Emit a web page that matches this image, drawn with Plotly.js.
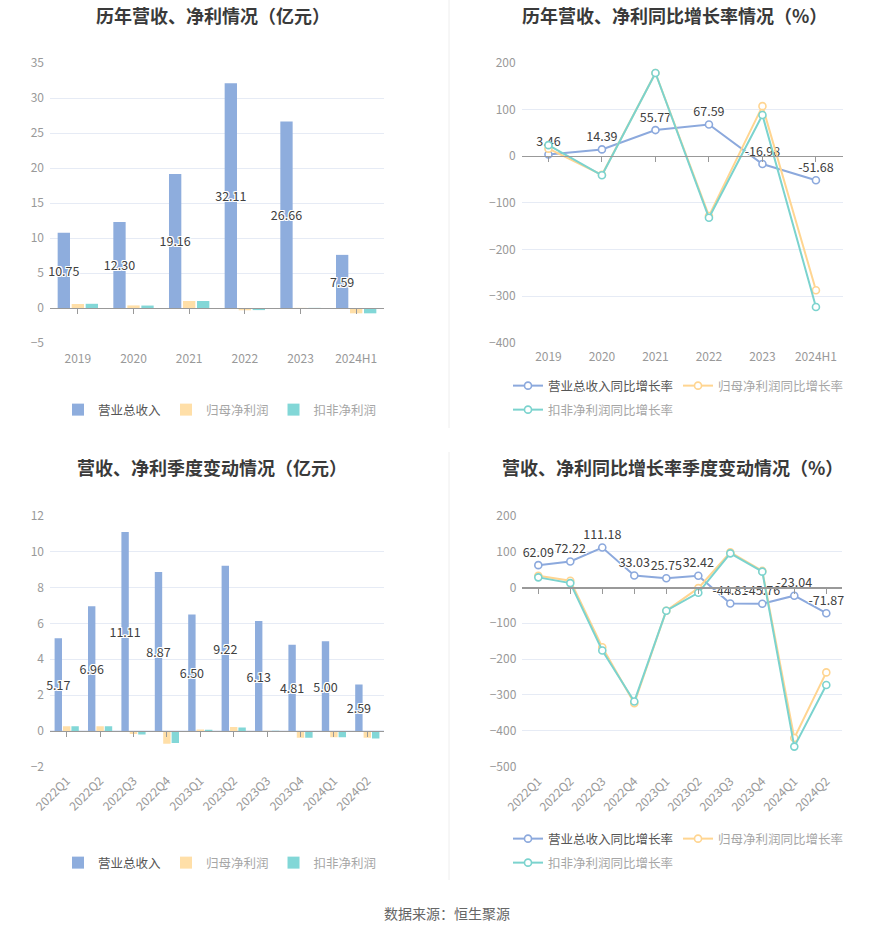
<!DOCTYPE html>
<html><head><meta charset="utf-8">
<script src="https://cdn.plot.ly/plotly-3.0.1.min.js"></script>
<style>html,body{margin:0;padding:0;background:#fff}#chart{width:893px;height:935px}</style>
</head><body><div id="chart"></div>
<script>
// ---------- data ----------
const annualCats = ['2019','2020','2021','2022','2023','2024H1'];
const annualRevenue = [10.75,12.30,19.16,32.11,26.66,7.59];
const annualNetProfit = [0.57,0.37,1.00,-0.33,0.02,-0.76];
const annualDeductedProfit = [0.60,0.35,1.00,-0.30,0.02,-0.76];
const annualRevenueYoY = [3.46,14.39,55.77,67.59,-16.98,-51.68];
const annualNetProfitYoY = [16,-40,178,-128,107,-287];
const annualDeductedYoY = [23.5,-41,178,-132,88,-323];

const quarterCats = ['2022Q1','2022Q2','2022Q3','2022Q4','2023Q1','2023Q2','2023Q3','2023Q4','2024Q1','2024Q2'];
const quarterRevenue = [5.17,6.96,11.11,8.87,6.50,9.22,6.13,4.81,5.00,2.59];
const quarterNetProfit = [0.26,0.26,-0.18,-0.72,0.08,0.22,0.01,-0.38,-0.36,-0.38];
const quarterDeductedProfit = [0.26,0.26,-0.20,-0.67,0.06,0.19,0.01,-0.38,-0.36,-0.42];
const quarterRevenueYoY = [62.09,72.22,111.18,33.03,25.75,32.42,-44.81,-45.76,-23.04,-71.87];
const quarterNetProfitYoY = [32.5,18.5,-167,-323,-65,-2,98,46,-420,-237];
const quarterDeductedYoY = [28,12,-176,-318,-65,-15,95,44,-444,-272];

const barNames = ['营业总收入','归母净利润','扣非净利润'];
const lineNames = ['营业总收入同比增长率','归母净利润同比增长率','扣非净利润同比增长率'];
const titles = ['历年营收、净利情况（亿元）','历年营收、净利同比增长率情况（%）','营收、净利季度变动情况（亿元）','营收、净利同比增长率季度变动情况（%）'];
const sourceText = '数据来源：恒生聚源';

// ---------- style ----------
const W = 893, H = 935;
const FONT = '"Noto Sans CJK SC", "Noto Sans", sans-serif';
const barColors = ['#8EADDD','#FFDFA8','#82D7D7'];
const lineColors = ['#8CA9DD','#FFD591','#7BD3CE'];
const halo = '1px 1px 0 #fff, -1px -1px 0 #fff, 1px -1px 0 #fff, -1px 1px 0 #fff, 0 1px 0 #fff, 0 -1px 0 #fff, 1px 0 0 #fff, -1px 0 0 #fff';

// plot boxes in pixels: [left, right, top, bottom], y range, dtick, label standoff
const boxes = [
  {l:50, r:384, t:63, b:343, range:[-5,35], dtick:5, standoff:34, angle:0},
  {l:521.7, r:842.7, t:62.7, b:343, range:[-400,200], dtick:100, standoff:184, angle:0},
  {l:50, r:384, t:516, b:766.7, range:[-2,12], dtick:2, standoff:32, angle:-45},
  {l:522.3, r:842.3, t:515.7, b:766.7, range:[-500,200], dtick:100, standoff:176, angle:-45}
];

const layout = {
  width: W, height: H,
  margin: {l:0, r:0, t:0, b:0},
  paper_bgcolor: '#fff', plot_bgcolor: '#fff',
  font: {family: FONT, size: 12, color: '#999'},
  barmode: 'group', bargap: 0.245, bargroupgap: 0.12,
  showlegend: true,
  annotations: [], shapes: []
};

const cats = [annualCats, annualCats, quarterCats, quarterCats];
boxes.forEach((bx, i) => {
  const n = i === 0 ? '' : String(i+1);
  const yd = [1 - bx.b/H, 1 - bx.t/H];
  const zeroPos = yd[0] + (0 - bx.range[0])/(bx.range[1]-bx.range[0])*(yd[1]-yd[0]);
  layout['xaxis'+n] = {
    domain: [bx.l/W, bx.r/W], anchor: 'free', position: zeroPos,
    type: 'category', range: [-0.5, cats[i].length - 0.5],
    showgrid: false, zeroline: false,
    showline: true, linecolor: '#999', linewidth: 1.2,
    ticks: 'outside', ticklen: 5, tickcolor: '#999', tickwidth: 1,
    tickangle: bx.angle, ticklabelstandoff: bx.standoff,
    tickfont: {family: FONT, size: 12, color: '#999'},
    fixedrange: true
  };
  layout['yaxis'+n] = {
    domain: yd, anchor: 'x'+n, range: bx.range, dtick: bx.dtick, tick0: 0,
    showgrid: true, gridcolor: '#E6EBF5', gridwidth: 1,
    zeroline: false, showline: false, ticks: '',
    ticklabelstandoff: 5,
    tickfont: {family: FONT, size: 12, color: '#999'},
    fixedrange: true
  };
});

// titles
const titlePos = [[213,15],[674,15],[212,467],[672,467]];
titles.forEach((t, i) => {
  layout.annotations.push({
    text: '<b>' + t + '</b>', xref: 'paper', yref: 'paper',
    x: titlePos[i][0]/W, y: 1 - titlePos[i][1]/H, xanchor: 'center', yanchor: 'middle',
    showarrow: false, font: {family: FONT, size: 18, color: '#3a3a3a'}
  });
});
layout.annotations.push({
  text: sourceText, xref: 'paper', yref: 'paper', x: 447/W, y: 1 - 913/H,
  xanchor: 'center', yanchor: 'middle', showarrow: false,
  font: {family: FONT, size: 14, color: '#666'}
});

// dividers
layout.shapes.push({type:'line', xref:'paper', yref:'paper', x0:449/W, x1:449/W, y0:1-0/H, y1:1-428/H, line:{color:'#EEEEEE', width:1}});
layout.shapes.push({type:'line', xref:'paper', yref:'paper', x0:449/W, x1:449/W, y0:1-452/H, y1:1-880/H, line:{color:'#EEEEEE', width:1}});

// legends
function legendName(name, idx) {
  return idx === 0 ? name : '<span style="color:#a6a6a6">' + name + '</span>';
}
const legFont = {family: FONT, size: 12.5, color: '#555'};
function mkLegend(xpx, ypx) {
  return {orientation: 'h', x: xpx/W, y: 1 - ypx/H, xanchor: 'left', yanchor: 'middle',
    font: legFont, bgcolor: 'rgba(0,0,0,0)', itemclick: false, itemdoubleclick: false, traceorder: 'normal'};
}
layout.legend = mkLegend(58, 410);
layout.legend2 = mkLegend(508, 386);
layout.legend5 = mkLegend(508, 410);
layout.legend3 = mkLegend(58, 863);
layout.legend4 = mkLegend(508, 839);
layout.legend6 = mkLegend(508, 863);

const traces = [];
function addBars(xa, ya, x, series, legendId) {
  series.forEach((vals, k) => {
    const t = {
      type: 'bar', x: x, y: vals, name: legendName(barNames[k], k), xaxis: xa, yaxis: ya,
      legend: legendId,
      marker: {color: barColors[k], line: {width: 0}},
      hoverinfo: 'x+y'
    };
    if (k === 0) {
      t.text = vals.map(v => v.toFixed(2));
      t.textposition = 'inside';
      t.insidetextanchor = 'middle';
      t.textangle = 0;
      t.constraintext = 'none';
      t.cliponaxis = false;
      t.insidetextfont = {family: FONT, size: 12.5, color: '#404040', shadow: halo};
      t.textfont = {family: FONT, size: 12.5, color: '#404040', shadow: halo};
    }
    traces.push(t);
  });
}
function addLines(xa, ya, x, series, legendIds) {
  series.forEach((vals, k) => {
    const t = {
      type: 'scatter', mode: k === 0 ? 'lines+markers+text' : 'lines+markers',
      x: x, y: vals, name: legendName(lineNames[k], k), xaxis: xa, yaxis: ya,
      legend: legendIds[k],
      line: {color: lineColors[k], width: 2},
      marker: {symbol: 'circle', size: 7, color: '#fff', line: {color: lineColors[k], width: 1.6}},
      cliponaxis: false, hoverinfo: 'x+y'
    };
    if (k === 0) {
      t.text = vals.map(v => v.toFixed(2));
      t.textposition = 'top center';
      t.textfont = {family: FONT, size: 12.5, color: '#404040', shadow: halo};
    }
    traces.push(t);
  });
}
addBars('x', 'y', annualCats, [annualRevenue, annualNetProfit, annualDeductedProfit], 'legend');
addLines('x2', 'y2', annualCats, [annualRevenueYoY, annualNetProfitYoY, annualDeductedYoY], ['legend2','legend2','legend5']);
addBars('x3', 'y3', quarterCats, [quarterRevenue, quarterNetProfit, quarterDeductedProfit], 'legend3');
addLines('x4', 'y4', quarterCats, [quarterRevenueYoY, quarterNetProfitYoY, quarterDeductedYoY], ['legend4','legend4','legend6']);

Plotly.newPlot('chart', traces, layout, {displayModeBar: false, staticPlot: true});
</script></body></html>
